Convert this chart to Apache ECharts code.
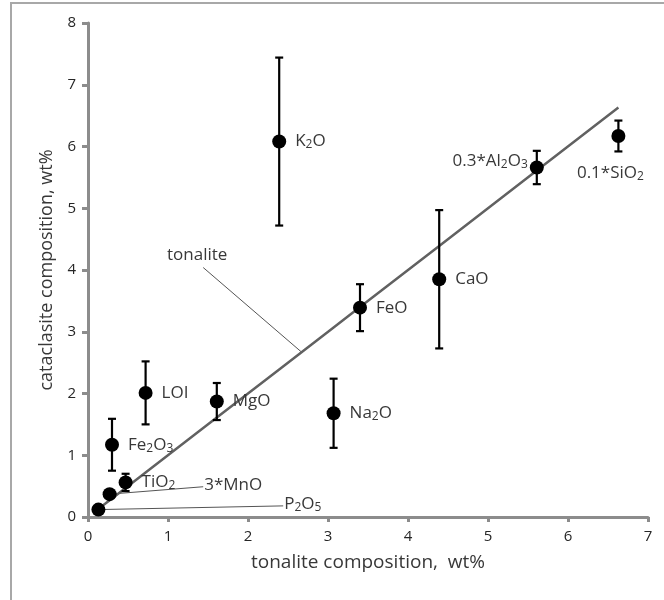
<!DOCTYPE html>
<html>
<head>
<meta charset="utf-8">
<script src="https://cdn.jsdelivr.net/npm/echarts@6/dist/echarts.min.js"></script>
<style>
  html, body { margin: 0; padding: 0; background: #fff; }
  #chart { width: 664px; height: 600px; }
</style>
</head>
<body>
<div id="chart"></div>
<script>
// Oxide names, tonalite (x) vs cataclasite (y) compositions in wt%, and 1-sigma spread
const oxides      = ['P2O5', '3*MnO', 'TiO2', 'Fe2O3', 'LOI', 'MgO', 'Na2O', 'FeO', 'CaO', 'K2O', '0.3*Al2O3', '0.1*SiO2'];
const tonalite    = [0.13, 0.27, 0.47, 0.30, 0.72, 1.61, 3.07, 3.40, 4.39, 2.39, 5.61, 6.63];
const cataclasite = [0.12, 0.37, 0.56, 1.17, 2.01, 1.87, 1.68, 3.39, 3.85, 6.08, 5.66, 6.17];
const spread      = [0, 0, 0.14, 0.42, 0.51, 0.30, 0.56, 0.38, 1.12, 1.36, 0.27, 0.25];

// Axis ticks
const xTicks = [0, 1, 2, 3, 4, 5, 6, 7];
const yTicks = [0, 1, 2, 3, 4, 5, 6, 7, 8];

// Callout labels: text, anchor on the mark, end point where the text sits
const calloutText   = ['tonalite', '3*MnO', 'P2O5'];
const calloutAnchor = [[2.67, 2.67], [0.27, 0.37], [0.13, 0.12]];
const calloutEnd    = [[1.44, 4.04], [1.44, 0.49], [2.44, 0.18]];

// Subscript the digits that follow an element symbol
function chem(s) {
  return s.replace(/([A-Za-z])(\d)/g, '$1{sub|$2}');
}

const textColor = '#383838';
const labelSize = 17;
const richSub = {
  sub: { fontSize: 12, padding: [7, 0, 0, 0], color: textColor, fontFamily: 'Open Sans' }
};

// Where each point label sits around its marker
const labelPlace = {
  'P2O5': null, '3*MnO': null,
  '0.3*Al2O3': { position: 'left', distance: 2, offset: [0, -6] },
  '0.1*SiO2': { position: 'bottom', distance: 21, offset: [-8, 0] }
};

const points = oxides.map((n, i) => {
  const place = labelPlace.hasOwnProperty(n) ? labelPlace[n] : { position: 'right', distance: 9, offset: [0, 0] };
  return {
    name: n,
    value: [tonalite[i], cataclasite[i]],
    label: place ? {
      show: true,
      position: place.position,
      distance: place.distance,
      offset: place.offset,
      formatter: chem(n),
      rich: richSub
    } : { show: false }
  };
});

const bars = oxides.map((n, i) => [tonalite[i], cataclasite[i], spread[i]]).filter(d => d[2] > 0);

// 1:1 tonalite reference line through the tonalite values
const oneToOne = tonalite.slice().sort((a, b) => a - b).map(v => [v, v]);

const calloutSeries = [];
calloutText.forEach((t, i) => {
  calloutSeries.push({
    type: 'line',
    data: [calloutAnchor[i], calloutEnd[i]],
    symbol: 'none',
    silent: true,
    z: 1,
    lineStyle: { color: '#555', width: 1 }
  });
});

const calloutLabels = {
  type: 'scatter',
  symbolSize: 0,
  silent: true,
  z: 5,
  itemStyle: { opacity: 1 },
  data: calloutText.map((t, i) => ({
    value: calloutEnd[i],
    label: t === 'tonalite'
      ? { show: true, position: 'top', distance: 4, offset: [-6, 0], formatter: t }
      : { show: true, position: 'right', distance: 1, offset: [0, -2], formatter: chem(t), rich: richSub }
  })),
  label: { color: textColor, fontSize: labelSize, fontFamily: 'Open Sans', opacity: 1 }
};

const chart = echarts.init(document.getElementById('chart'));
chart.setOption({
  animation: false,
  backgroundColor: '#fff',
  textStyle: { fontFamily: 'Open Sans' },
  graphic: [{
    type: 'rect',
    shape: { x: 11, y: 3, width: 720, height: 700 },
    style: { fill: 'none', stroke: '#a8a8a8', lineWidth: 2 },
    silent: true
  }],
  grid: { left: 88, right: 16, top: 23, bottom: 83 },
  xAxis: {
    type: 'value', min: 0, max: xTicks[xTicks.length - 1], interval: 1,
    name: 'tonalite composition,  wt%',
    nameLocation: 'middle', nameGap: 36,
    nameTextStyle: { fontSize: 19, color: textColor, fontFamily: 'Open Sans' },
    axisLine: { lineStyle: { color: '#8c8c8c', width: 3 } },
    axisTick: { show: true, length: 5, lineStyle: { color: '#8c8c8c', width: 3 } },
    axisLabel: { fontSize: 15, color: '#262626', margin: 12 },
    splitLine: { show: false }
  },
  yAxis: {
    type: 'value', min: 0, max: yTicks[yTicks.length - 1], interval: 1,
    name: 'cataclasite composition, wt%',
    nameLocation: 'middle', nameGap: 32,
    nameTextStyle: { fontSize: 18, color: textColor, fontFamily: 'Open Sans' },
    axisLine: { show: true, lineStyle: { color: '#8c8c8c', width: 3 } },
    axisTick: { show: true, length: 6, lineStyle: { color: '#8c8c8c', width: 3 } },
    axisLabel: { fontSize: 15, color: '#262626', margin: 12 },
    splitLine: { show: false }
  },
  series: [
    {
      type: 'line',
      data: oneToOne,
      symbol: 'none',
      silent: true,
      z: 2,
      lineStyle: { color: '#616161', width: 2.5 }
    },
    ...calloutSeries,
    {
      type: 'custom',
      z: 3,
      silent: true,
      data: bars,
      renderItem: function (params, api) {
        const x = api.value(0), y = api.value(1), e = api.value(2);
        const top = api.coord([x, y + e]);
        const bot = api.coord([x, y - e]);
        const w = 4;
        const st = { stroke: '#000', lineWidth: 2.2 };
        return {
          type: 'group',
          children: [
            { type: 'line', shape: { x1: top[0], y1: top[1], x2: bot[0], y2: bot[1] }, style: st },
            { type: 'line', shape: { x1: top[0] - w, y1: top[1], x2: top[0] + w, y2: top[1] }, style: st },
            { type: 'line', shape: { x1: bot[0] - w, y1: bot[1], x2: bot[0] + w, y2: bot[1] }, style: st }
          ]
        };
      }
    },
    {
      type: 'scatter',
      z: 4,
      symbol: 'circle',
      symbolSize: 14,
      itemStyle: { color: '#000', opacity: 1 },
      emphasis: { disabled: true },
      label: { color: textColor, fontSize: labelSize, fontFamily: 'Open Sans' },
      data: points
    },
    calloutLabels
  ]
});
</script>
</body>
</html>
